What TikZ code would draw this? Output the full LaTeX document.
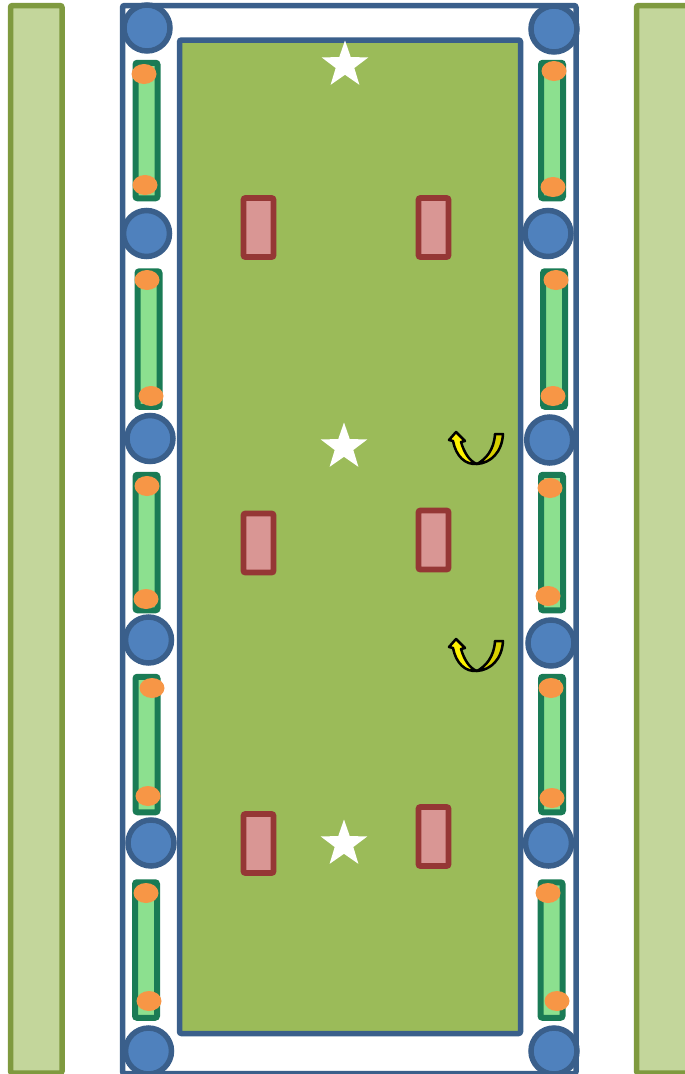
\documentclass[tikz,border=0pt]{standalone}
\usetikzlibrary{shapes.geometric}
\definecolor{frameblue}{HTML}{3A5F8B}
\definecolor{poleblue}{HTML}{4F81BD}
\definecolor{sideline}{HTML}{7F9A3F}
\definecolor{sidefill}{HTML}{C3D69B}
\definecolor{fieldfill}{HTML}{9BBB59}
\definecolor{tubeline}{HTML}{1A7B55}
\definecolor{tubefill}{HTML}{8CE08F}
\definecolor{lampfill}{HTML}{F79646}
\definecolor{padline}{HTML}{953735}
\definecolor{padfill}{HTML}{D99694}
\definecolor{armdark}{HTML}{D8D000}
\begin{document}
\begin{tikzpicture}[
  x=1pt, y=-1pt,
  strip/.style={draw=sideline, fill=sidefill, line width=5.5pt, rounded corners=2pt, inner sep=0pt, minimum width=51.5pt, minimum height=#1},
  frame/.style={draw=frameblue, line width=5.5pt, rounded corners=2pt, inner sep=0pt, minimum width=#1, minimum height=1068pt},
  field/.style={draw=frameblue, fill=fieldfill, line width=5.5pt, rounded corners=2pt, inner sep=0pt, minimum width=341pt, minimum height=993.5pt},
  pole/.style={circle, draw=frameblue, fill=poleblue, line width=5.5pt, inner sep=0pt, minimum size=46pt},
  tube/.style={draw=tubeline, fill=tubefill, line width=6pt, rounded corners=2pt, inner sep=0pt, minimum width=22pt, minimum height=135.5pt},
  lamp/.style={ellipse, fill=lampfill, inner sep=0pt, minimum width=25pt, minimum height=20pt},
  pad/.style={draw=padline, fill=padfill, line width=5.8pt, rounded corners=2pt, inner sep=0pt, minimum width=30pt, minimum height=59pt},
  marker/.style={star, star points=5, star point ratio=2.5, fill=white, inner sep=0pt, minimum size=49pt},
  turn/.pic={
    \draw[black, fill=armdark, line width=2.5pt, line join=round] (18,-30) -- (26,-30) .. controls (25,-12) and (14,-1) .. (0,0) .. controls (9,-5) and (17,-14) .. (18,-30) -- cycle;
    \draw[black, fill=yellow, line width=2.5pt, line join=round] (0,0) .. controls (-12,1) and (-21,-8) .. (-24,-23) -- (-28,-24) -- (-21,-32) -- (-12,-23) -- (-16,-22) .. controls (-13,-12) and (-8,-3) .. (0,0) -- cycle;
  }
]
\clip (0,0) rectangle (685,1074);

% Side strips
\node[strip=1067.5pt] (stripL) at (36.25,539.25) {};
\node[strip=1067.5pt] (stripR) at (662.25,539.25) {};

% Outer frame and field
\node[frame=453.5pt] (outer) at (349.25,539.5) {};
\node[field] (inner) at (350,536.75) {};

% Left tubes
\node[tube] (tubeL1) at (146.5,130.5) {};
\node[tube] (tubeL2) at (148.5,339) {};
\node[tube] (tubeL3) at (146.5,542.5) {};
\node[tube] (tubeL4) at (146.5,744.5) {};
\node[tube] (tubeL5) at (146,950) {};

% Right tubes
\node[tube] (tubeR1) at (552,130.5) {};
\node[tube] (tubeR2) at (554,339) {};
\node[tube] (tubeR3) at (552,542.5) {};
\node[tube] (tubeR4) at (552,744.5) {};
\node[tube] (tubeR5) at (551.5,950) {};

% Left poles
\node[pole] (poleL1) at (147,28) {};
\node[pole] (poleL2) at (146.5,233.5) {};
\node[pole] (poleL3) at (150,438.5) {};
\node[pole] (poleL4) at (148.5,640) {};
\node[pole] (poleL5) at (151,843) {};
\node[pole] (poleL6) at (148.5,1051) {};

% Right poles
\node[pole] (poleR1) at (554,29) {};
\node[pole] (poleR2) at (548,233.5) {};
\node[pole] (poleR3) at (549.7,440) {};
\node[pole] (poleR4) at (551,643) {};
\node[pole] (poleR5) at (548.5,843) {};
\node[pole] (poleR6) at (554,1051) {};

% Left lamps
\node[lamp] (lampL1) at (144,74) {};
\node[lamp] (lampL2) at (145,185) {};
\node[lamp] (lampL3) at (147,280) {};
\node[lamp] (lampL4) at (151,396) {};
\node[lamp] (lampL5) at (147,486) {};
\node[lamp] (lampL6) at (146,599) {};
\node[lamp] (lampL7) at (152,688) {};
\node[lamp] (lampL8) at (148,796) {};
\node[lamp] (lampL9) at (146,893) {};
\node[lamp] (lampL10) at (149,1001) {};

% Right lamps
\node[lamp] (lampR1) at (554,71) {};
\node[lamp] (lampR2) at (553,187) {};
\node[lamp] (lampR3) at (556,280) {};
\node[lamp] (lampR4) at (553,396) {};
\node[lamp] (lampR5) at (550,488) {};
\node[lamp] (lampR6) at (548,596) {};
\node[lamp] (lampR7) at (551,688) {};
\node[lamp] (lampR8) at (552,798) {};
\node[lamp] (lampR9) at (548,893) {};
\node[lamp] (lampR10) at (557,1001) {};

% Pads on the field
\node[pad] (padL1) at (258.5,227.5) {};
\node[pad] (padR1) at (433.5,227.5) {};
\node[pad] (padL2) at (258.5,543) {};
\node[pad] (padR2) at (433.5,540) {};
\node[pad] (padL3) at (258.5,843.5) {};
\node[pad] (padR3) at (433.5,836.5) {};

% Stars
\node[marker] (starT) at (345,65) {};
\node[marker] (starM) at (344,447) {};
\node[marker] (starB) at (344,844) {};

% Turn arrows
\pic at (477,464) {turn};
\pic at (477,671) {turn};

\end{tikzpicture}
\end{document}
